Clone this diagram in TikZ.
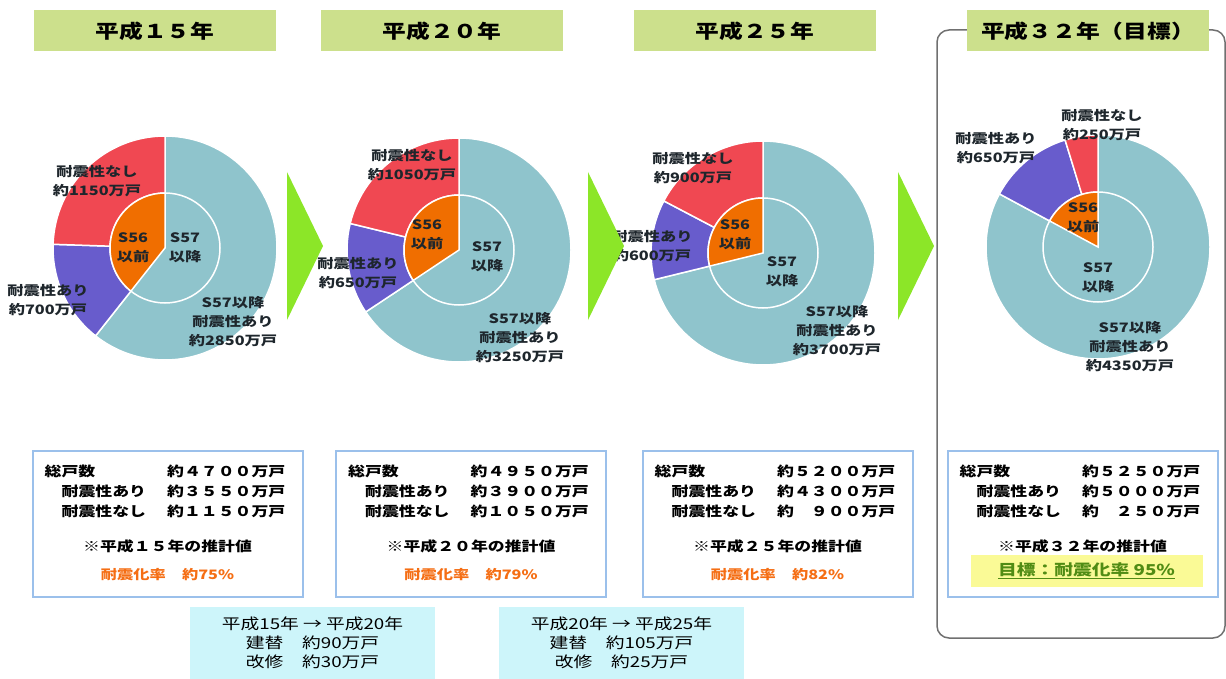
\documentclass[tikz,border=0pt]{standalone}
\usepackage{fontspec}
\setmainfont[FakeStretch=1.25]{Noto Sans CJK JP}
\usetikzlibrary{positioning,calc}

\definecolor{titlegreen}{RGB}{204,224,140}
\definecolor{arrowgreen}{RGB}{140,230,40}
\definecolor{pieblue}{RGB}{143,196,204}
\definecolor{piered}{RGB}{240,72,82}
\definecolor{piepurple}{RGB}{104,92,204}
\definecolor{pieorange}{RGB}{240,110,0}
\definecolor{labeltext}{RGB}{30,38,44}
\definecolor{infoblue}{RGB}{155,192,235}
\definecolor{rateorange}{RGB}{245,110,20}
\definecolor{movecyan}{RGB}{205,245,250}
\definecolor{goalyellow}{RGB}{250,250,150}
\definecolor{goalgreen}{RGB}{80,140,20}
\definecolor{framegray}{RGB}{112,112,112}

\begin{document}
\begin{tikzpicture}[x=1pt,y=1pt,
  title/.style={fill=titlegreen, minimum width=242pt, minimum height=41pt, inner sep=0pt,
    font=\fontsize{19}{22}\selectfont\bfseries},
  lbl/.style={align=center, inner sep=0pt, text=labeltext, font=\fontsize{13}{19}\selectfont\bfseries},
  slice/.style={draw=white, line width=1.5pt},
  info/.style={draw=infoblue, line width=2pt, fill=white, minimum width=270pt, minimum height=146pt, inner sep=0pt},
  txt/.style={inner sep=0pt, font=\fontsize{13.5}{20}\selectfont\bfseries},
  rate/.style={txt, text=rateorange, font=\fontsize{13}{20}\selectfont\bfseries},
  move/.style={fill=movecyan, minimum width=245pt, minimum height=72pt, inner sep=0pt, align=center,
    font=\fontsize{15}{19}\selectfont},
  go/.style={fill=arrowgreen}
]
\useasboundingbox (0,0) rectangle (1226,-679);

% frame of the goal column
\draw[framegray, line width=1.5pt, rounded corners=12pt] (937,-30) rectangle (1225,-638);

% titles
\node[title] (t15) at (155,-31) {平成１５年};
\node[title] (t20) at (442,-31) {平成２０年};
\node[title] (t25) at (755,-31) {平成２５年};
\node[title] (t32) at (1088,-31) {平成３２年（目標）};

% donut H15
\coordinate (d15) at (165,-248);
\filldraw[slice, fill=pieblue] (d15) -- ++(90:112) arc[start angle=90, end angle=-128.3, radius=112] -- cycle;
\filldraw[slice, fill=piepurple] (d15) -- ++(-128.3:112) arc[start angle=-128.3, end angle=-181.9, radius=112] -- cycle;
\filldraw[slice, fill=piered] (d15) -- ++(178.1:112) arc[start angle=178.1, end angle=90, radius=112] -- cycle;
\filldraw[slice, fill=pieblue] (d15) circle[radius=55];
\filldraw[slice, fill=pieorange] (d15) -- ++(90:55) arc[start angle=90, end angle=231.7, radius=55] -- cycle;
\node[lbl] (n15) at (97,-181) {耐震性なし\\約1150万戸};
\node[lbl] (a15) at (48,-300) {耐震性あり\\約700万戸};
\node[lbl] (p15) at (133,-248) {S56\\以前};
\node[lbl] (q15) at (185,-248) {S57\\以降};
\node[lbl] (s15) at (233,-322) {S57以降\\耐震性あり\\約2850万戸};

% donut H20
\coordinate (d20) at (459,-250);
\filldraw[slice, fill=pieblue] (d20) -- ++(90:112) arc[start angle=90, end angle=-146.4, radius=112] -- cycle;
\filldraw[slice, fill=piepurple] (d20) -- ++(-146.4:112) arc[start angle=-146.4, end angle=-193.7, radius=112] -- cycle;
\filldraw[slice, fill=piered] (d20) -- ++(166.3:112) arc[start angle=166.3, end angle=90, radius=112] -- cycle;
\filldraw[slice, fill=pieblue] (d20) circle[radius=55];
\filldraw[slice, fill=pieorange] (d20) -- ++(90:55) arc[start angle=90, end angle=213.6, radius=55] -- cycle;
\node[lbl] (n20) at (412,-165) {耐震性なし\\約1050万戸};
\node[lbl] (a20) at (358,-273) {耐震性あり\\約650万戸};
\node[lbl] (p20) at (427,-235) {S56\\以前};
\node[lbl] (q20) at (487,-257) {S57\\以降};
\node[lbl] (s20) at (520,-338) {S57以降\\耐震性あり\\約3250万戸};

% donut H25
\coordinate (d25) at (763,-253);
\filldraw[slice, fill=pieblue] (d25) -- ++(90:112) arc[start angle=90, end angle=-166.2, radius=112] -- cycle;
\filldraw[slice, fill=piepurple] (d25) -- ++(-166.2:112) arc[start angle=-166.2, end angle=-207.7, radius=112] -- cycle;
\filldraw[slice, fill=piered] (d25) -- ++(152.3:112) arc[start angle=152.3, end angle=90, radius=112] -- cycle;
\filldraw[slice, fill=pieblue] (d25) circle[radius=55];
\filldraw[slice, fill=pieorange] (d25) -- ++(90:55) arc[start angle=90, end angle=193.8, radius=55] -- cycle;
\node[lbl] (n25) at (693,-168) {耐震性なし\\約900万戸};
\node[lbl] (a25) at (652,-246) {耐震性あり\\約600万戸};
\node[lbl] (p25) at (735,-235) {S56\\以前};
\node[lbl] (q25) at (782,-272) {S57\\以降};
\node[lbl] (s25) at (837,-331) {S57以降\\耐震性あり\\約3700万戸};

% donut H32
\coordinate (d32) at (1098,-247);
\filldraw[slice, fill=pieblue] (d32) -- ++(90:112) arc[start angle=90, end angle=-208.3, radius=112] -- cycle;
\filldraw[slice, fill=piepurple] (d32) -- ++(-208.3:112) arc[start angle=-208.3, end angle=-252.9, radius=112] -- cycle;
\filldraw[slice, fill=piered] (d32) -- ++(107.1:112) arc[start angle=107.1, end angle=90, radius=112] -- cycle;
\filldraw[slice, fill=pieblue] (d32) circle[radius=55];
\filldraw[slice, fill=pieorange] (d32) -- ++(90:55) arc[start angle=90, end angle=151.7, radius=55] -- cycle;
\node[lbl] (n32) at (1102,-125) {耐震性なし\\約250万戸};
\node[lbl] (a32) at (996,-148) {耐震性あり\\約650万戸};
\node[lbl] (p32) at (1083,-218) {S56\\以前};
\node[lbl] (q32) at (1098,-278) {S57\\以降};
\node[lbl] (s32) at (1130,-347) {S57以降\\耐震性あり\\約4350万戸};

% arrows
\fill[go] (287,-172) -- (287,-320) -- (323,-246) -- cycle;
\fill[go] (588,-172) -- (588,-320) -- (624,-246) -- cycle;
\fill[go] (898,-172) -- (898,-320) -- (934,-246) -- cycle;

% info boxes
\node[info] (i15) at (167.5,-523.5) {};
\node[txt, anchor=west] at ($(i15.north west)+(13,-22)$) {総戸数};
\node[txt, anchor=west] at ($(i15.north west)+(30,-42)$) {耐震性あり};
\node[txt, anchor=west] at ($(i15.north west)+(30,-62)$) {耐震性なし};
\node[txt, anchor=east] at ($(i15.north east)+(-18,-22)$) {約４７００万戸};
\node[txt, anchor=east] at ($(i15.north east)+(-18,-42)$) {約３５５０万戸};
\node[txt, anchor=east] at ($(i15.north east)+(-18,-62)$) {約１１５０万戸};
\node[txt] at ($(i15.north)+(0,-97)$) {※平成１５年の推計値};
\node[rate] at ($(i15.north)+(0,-125)$) {耐震化率　約75\%};

\node[info] (i20) at (471,-523.5) {};
\node[txt, anchor=west] at ($(i20.north west)+(13,-22)$) {総戸数};
\node[txt, anchor=west] at ($(i20.north west)+(30,-42)$) {耐震性あり};
\node[txt, anchor=west] at ($(i20.north west)+(30,-62)$) {耐震性なし};
\node[txt, anchor=east] at ($(i20.north east)+(-18,-22)$) {約４９５０万戸};
\node[txt, anchor=east] at ($(i20.north east)+(-18,-42)$) {約３９００万戸};
\node[txt, anchor=east] at ($(i20.north east)+(-18,-62)$) {約１０５０万戸};
\node[txt] at ($(i20.north)+(0,-97)$) {※平成２０年の推計値};
\node[rate] at ($(i20.north)+(0,-125)$) {耐震化率　約79\%};

\node[info] (i25) at (777.5,-523.5) {};
\node[txt, anchor=west] at ($(i25.north west)+(13,-22)$) {総戸数};
\node[txt, anchor=west] at ($(i25.north west)+(30,-42)$) {耐震性あり};
\node[txt, anchor=west] at ($(i25.north west)+(30,-62)$) {耐震性なし};
\node[txt, anchor=east] at ($(i25.north east)+(-18,-22)$) {約５２００万戸};
\node[txt, anchor=east] at ($(i25.north east)+(-18,-42)$) {約４３００万戸};
\node[txt, anchor=east] at ($(i25.north east)+(-18,-62)$) {約　９００万戸};
\node[txt] at ($(i25.north)+(0,-97)$) {※平成２５年の推計値};
\node[rate] at ($(i25.north)+(0,-125)$) {耐震化率　約82\%};

\node[info] (i32) at (1082.5,-523.5) {};
\node[txt, anchor=west] at ($(i32.north west)+(13,-22)$) {総戸数};
\node[txt, anchor=west] at ($(i32.north west)+(30,-42)$) {耐震性あり};
\node[txt, anchor=west] at ($(i32.north west)+(30,-62)$) {耐震性なし};
\node[txt, anchor=east] at ($(i32.north east)+(-18,-22)$) {約５２５０万戸};
\node[txt, anchor=east] at ($(i32.north east)+(-18,-42)$) {約５０００万戸};
\node[txt, anchor=east] at ($(i32.north east)+(-18,-62)$) {約　２５０万戸};
\node[txt] at ($(i32.north)+(0,-97)$) {※平成３２年の推計値};
\node[txt, fill=goalyellow, minimum width=232pt, minimum height=32pt, text=goalgreen,
  font=\fontsize{15}{20}\selectfont\bfseries] (g32) at ($(i32.north)+(4,-121)$) {\underline{目標：耐震化率 95\%}};

% rebuilding and repair
\node[move] (m1520) at (312.5,-643) {平成15年 → 平成20年\\建替　約90万戸\\改修　約30万戸};
\node[move] (m2025) at (621.5,-643) {平成20年 → 平成25年\\建替　約105万戸\\改修　約25万戸};
\end{tikzpicture}
\end{document}
